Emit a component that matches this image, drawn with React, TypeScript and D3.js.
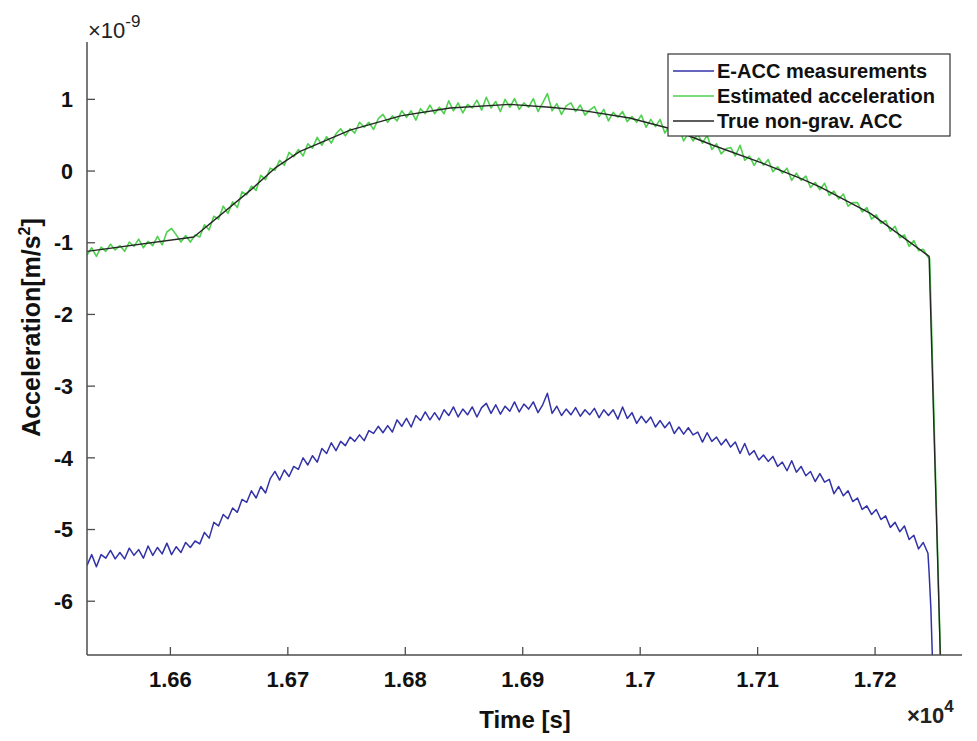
import React from "react";
import * as d3 from "d3";

// ---- data (time in s, acceleration in 1e-9 m/s^2) ----
const sampleStart = 16529;
const sampleStep = 4;

const trueTimes = [16529, 16620, 16668, 16689, 16710, 16753, 16796, 16838, 16889, 16923, 16949, 16991, 17026, 17062, 17104, 17136, 17153, 17196, 17246, 17258];
const trueValues = [-1.12, -0.92, -0.27, 0.04, 0.27, 0.57, 0.77, 0.88, 0.93, 0.89, 0.85, 0.74, 0.59, 0.36, 0.11, -0.10, -0.22, -0.59, -1.19, -8.2];

const estimatedValues = [
  -1.17, -1.07, -1.19, -1.06, -1.12, -1.02, -1.10, -1.04, -1.12, -0.99,
  -1.05, -0.95, -1.07, -0.98, -1.04, -0.91, -1.03, -0.85, -0.80, -0.89,
  -0.99, -0.90, -0.99, -0.89, -0.92, -0.75, -0.82, -0.63, -0.67, -0.49,
  -0.59, -0.43, -0.51, -0.29, -0.33, -0.21, -0.27, -0.06, -0.12, 0.04,
  0.01, 0.15, 0.08, 0.26, 0.20, 0.30, 0.21, 0.38, 0.32, 0.47,
  0.36, 0.48, 0.39, 0.52, 0.59, 0.49, 0.59, 0.53, 0.68, 0.61,
  0.68, 0.58, 0.73, 0.79, 0.68, 0.77, 0.70, 0.84, 0.75, 0.84,
  0.71, 0.87, 0.80, 0.92, 0.80, 0.89, 0.80, 0.98, 0.84, 0.95,
  0.81, 0.93, 0.88, 0.99, 0.85, 1.03, 0.88, 0.97, 0.83, 1.00,
  0.89, 1.01, 0.86, 0.95, 0.89, 1.01, 0.83, 0.95, 1.08, 0.84,
  0.94, 0.79, 0.91, 0.95, 0.83, 0.92, 0.78, 0.85, 0.90, 0.76,
  0.86, 0.70, 0.82, 0.75, 0.83, 0.69, 0.76, 0.68, 0.78, 0.61,
  0.72, 0.62, 0.72, 0.53, 0.63, 0.55, 0.61, 0.42, 0.53, 0.42,
  0.51, 0.39, 0.50, 0.30, 0.38, 0.24, 0.31, 0.33, 0.21, 0.36,
  0.15, 0.21, 0.08, 0.18, 0.08, 0.16, -0.01, 0.06, -0.03, 0.04,
  -0.13, -0.03, -0.13, -0.07, -0.23, -0.16, -0.26, -0.17, -0.34, -0.28,
  -0.39, -0.32, -0.49, -0.44, -0.44, -0.57, -0.51, -0.67, -0.61, -0.73,
  -0.69, -0.84, -0.77, -0.93, -0.89, -1.05, -0.97, -1.11, -1.09, -1.20,
];
const estimatedTailTimes = [17246.5, 17258];
const estimatedTailValues = [-1.22, -8.2];

const measuredValues = [
  -5.50, -5.35, -5.52, -5.35, -5.40, -5.29, -5.41, -5.32, -5.41, -5.26,
  -5.36, -5.28, -5.40, -5.23, -5.36, -5.25, -5.34, -5.19, -5.35, -5.24,
  -5.32, -5.18, -5.25, -5.16, -5.20, -5.04, -5.12, -4.90, -4.95, -4.79,
  -4.85, -4.70, -4.76, -4.58, -4.62, -4.46, -4.56, -4.40, -4.49, -4.29,
  -4.19, -4.31, -4.17, -4.26, -4.12, -4.16, -4.00, -4.10, -3.97, -4.06,
  -3.87, -3.94, -3.79, -3.90, -3.77, -3.83, -3.71, -3.77, -3.68, -3.76,
  -3.62, -3.66, -3.56, -3.65, -3.55, -3.64, -3.47, -3.56, -3.45, -3.57,
  -3.41, -3.48, -3.36, -3.47, -3.37, -3.47, -3.33, -3.41, -3.29, -3.43,
  -3.32, -3.40, -3.29, -3.43, -3.30, -3.24, -3.38, -3.26, -3.39, -3.28,
  -3.35, -3.22, -3.36, -3.25, -3.32, -3.22, -3.37, -3.26, -3.10, -3.38,
  -3.28, -3.41, -3.32, -3.40, -3.30, -3.42, -3.33, -3.40, -3.31, -3.44,
  -3.33, -3.41, -3.33, -3.46, -3.29, -3.45, -3.37, -3.52, -3.42, -3.51,
  -3.43, -3.57, -3.48, -3.58, -3.50, -3.66, -3.57, -3.67, -3.58, -3.68,
  -3.64, -3.78, -3.65, -3.77, -3.71, -3.82, -3.74, -3.85, -3.78, -3.94,
  -3.80, -3.96, -3.90, -4.03, -3.96, -4.05, -3.98, -4.12, -4.06, -4.18,
  -4.04, -4.20, -4.12, -4.25, -4.19, -4.33, -4.22, -4.34, -4.30, -4.50,
  -4.40, -4.53, -4.46, -4.61, -4.56, -4.72, -4.67, -4.79, -4.72, -4.86,
  -4.81, -4.97, -4.90, -5.03, -4.95, -5.14, -5.08, -5.27, -5.18, -5.33,
];
const measuredTailTimes = [17246, 17247.5, 17249, 17251];
const measuredTailValues = [-5.6, -6.1, -6.9, -8.0];

const xTicks = [16600, 16700, 16800, 16900, 17000, 17100, 17200];
const xTickLabels = ["1.66", "1.67", "1.68", "1.69", "1.7", "1.71", "1.72"];
const yTicks = [-6, -5, -4, -3, -2, -1, 0, 1];
const yTickLabels = ["-6", "-5", "-4", "-3", "-2", "-1", "0", "1"];

const legendLabels = ["E-ACC measurements", "Estimated acceleration", "True non-grav. ACC"];
const seriesColors = ["#3232a8", "#4fd14f", "#262626"];

type Pt = [number, number];

export default function App() {
  const W = 977, H = 741;
  const left = 87, right = 962, top = 42, bottom = 655;
  const x = d3.scaleLinear().domain([16529, 17274]).range([left, right]);
  const y = d3.scaleLinear().domain([-6.75, 1.8]).range([bottom, top]);
  const line = d3.line<Pt>().x((d) => x(d[0])).y((d) => y(d[1]));

  const measured: Pt[] = measuredValues
    .map((v, i) => [sampleStart + i * sampleStep, v] as Pt)
    .concat(measuredTailTimes.map((t, i) => [t, measuredTailValues[i]] as Pt));
  const estimated: Pt[] = estimatedValues
    .map((v, i) => [sampleStart + i * sampleStep, v] as Pt)
    .concat(estimatedTailTimes.map((t, i) => [t, estimatedTailValues[i]] as Pt));
  const truth: Pt[] = trueTimes.map((t, i) => [t, trueValues[i]] as Pt);

  const font = "'Liberation Sans', Arial, sans-serif";
  const axisColor = "#4d4d4d";
  const legX = 668, legY = 54, legW = 282, legH = 82;

  return (
    <div style={{ position: "absolute", left: 0, top: 0 }}>
      <svg width={W} height={H} style={{ display: "block", background: "#fff" }} fontFamily={font}>
        <defs>
          <clipPath id="plotClip">
            <rect x={left} y={top} width={right - left} height={bottom - top} />
          </clipPath>
        </defs>
        <rect x={0} y={0} width={W} height={H} fill="#fff" />

        <g clipPath="url(#plotClip)" fill="none" strokeLinejoin="round">
          <path d={line(measured) || ""} stroke={seriesColors[0]} strokeWidth={1.5} />
          <path d={line(estimated) || ""} stroke={seriesColors[1]} strokeWidth={1.6} />
          <path d={line(truth) || ""} stroke={seriesColors[2]} strokeWidth={1.4} />
        </g>

        {/* axes */}
        <line x1={left} y1={top} x2={left} y2={bottom} stroke={axisColor} strokeWidth={1.5} />
        <line x1={left} y1={bottom} x2={right} y2={bottom} stroke={axisColor} strokeWidth={1.5} />

        {yTicks.map((t, i) => (
          <g key={"y" + t}>
            <line x1={left} x2={left + 8} y1={y(t)} y2={y(t)} stroke={axisColor} strokeWidth={1.3} />
            <text x={73} y={y(t)} dy="0.36em" textAnchor="end" fontSize={21.5} fontWeight="bold" fill="#111">
              {yTickLabels[i]}
            </text>
          </g>
        ))}
        {xTicks.map((t, i) => (
          <g key={"x" + t}>
            <line x1={x(t)} x2={x(t)} y1={bottom} y2={bottom - 8} stroke={axisColor} strokeWidth={1.3} />
            <text x={x(t)} y={687} textAnchor="middle" fontSize={22} fontWeight="bold" fill="#111">
              {xTickLabels[i]}
            </text>
          </g>
        ))}

        {/* exponent labels */}
        <text x={88} y={38} fontSize={22} fill="#222">
          ×10
          <tspan fontSize={17} dy={-11}>-9</tspan>
        </text>
        <text x={907} y={723} fontSize={22} fontWeight="bold" fill="#222">
          ×10
          <tspan fontSize={17} dy={-11}>4</tspan>
        </text>

        {/* axis titles */}
        <text x={525} y={728} textAnchor="middle" fontSize={24} fontWeight="bold" fill="#111">
          Time [s]
        </text>
        <text
          transform={`translate(40,${(218 + 437) / 2}) rotate(-90)`}
          textAnchor="middle"
          fontSize={25}
          fontWeight="bold"
          fill="#111"
        >
          Acceleration[m/s
          <tspan fontSize={16} dy={-10}>2</tspan>
          <tspan dy={10}>]</tspan>
        </text>

        {/* legend */}
        <rect x={legX} y={legY} width={legW} height={legH} fill="#fff" stroke="#333" strokeWidth={1.2} />
        {legendLabels.map((lab, i) => (
          <g key={lab}>
            <line x1={673} x2={714} y1={71 + i * 25} y2={71 + i * 25} stroke={seriesColors[i]} strokeWidth={1.4} />
            <text x={717} y={71 + i * 25} dy="0.36em" fontSize={20} fontWeight="bold" fill="#111">
              {lab}
            </text>
          </g>
        ))}
      </svg>
    </div>
  );
}
